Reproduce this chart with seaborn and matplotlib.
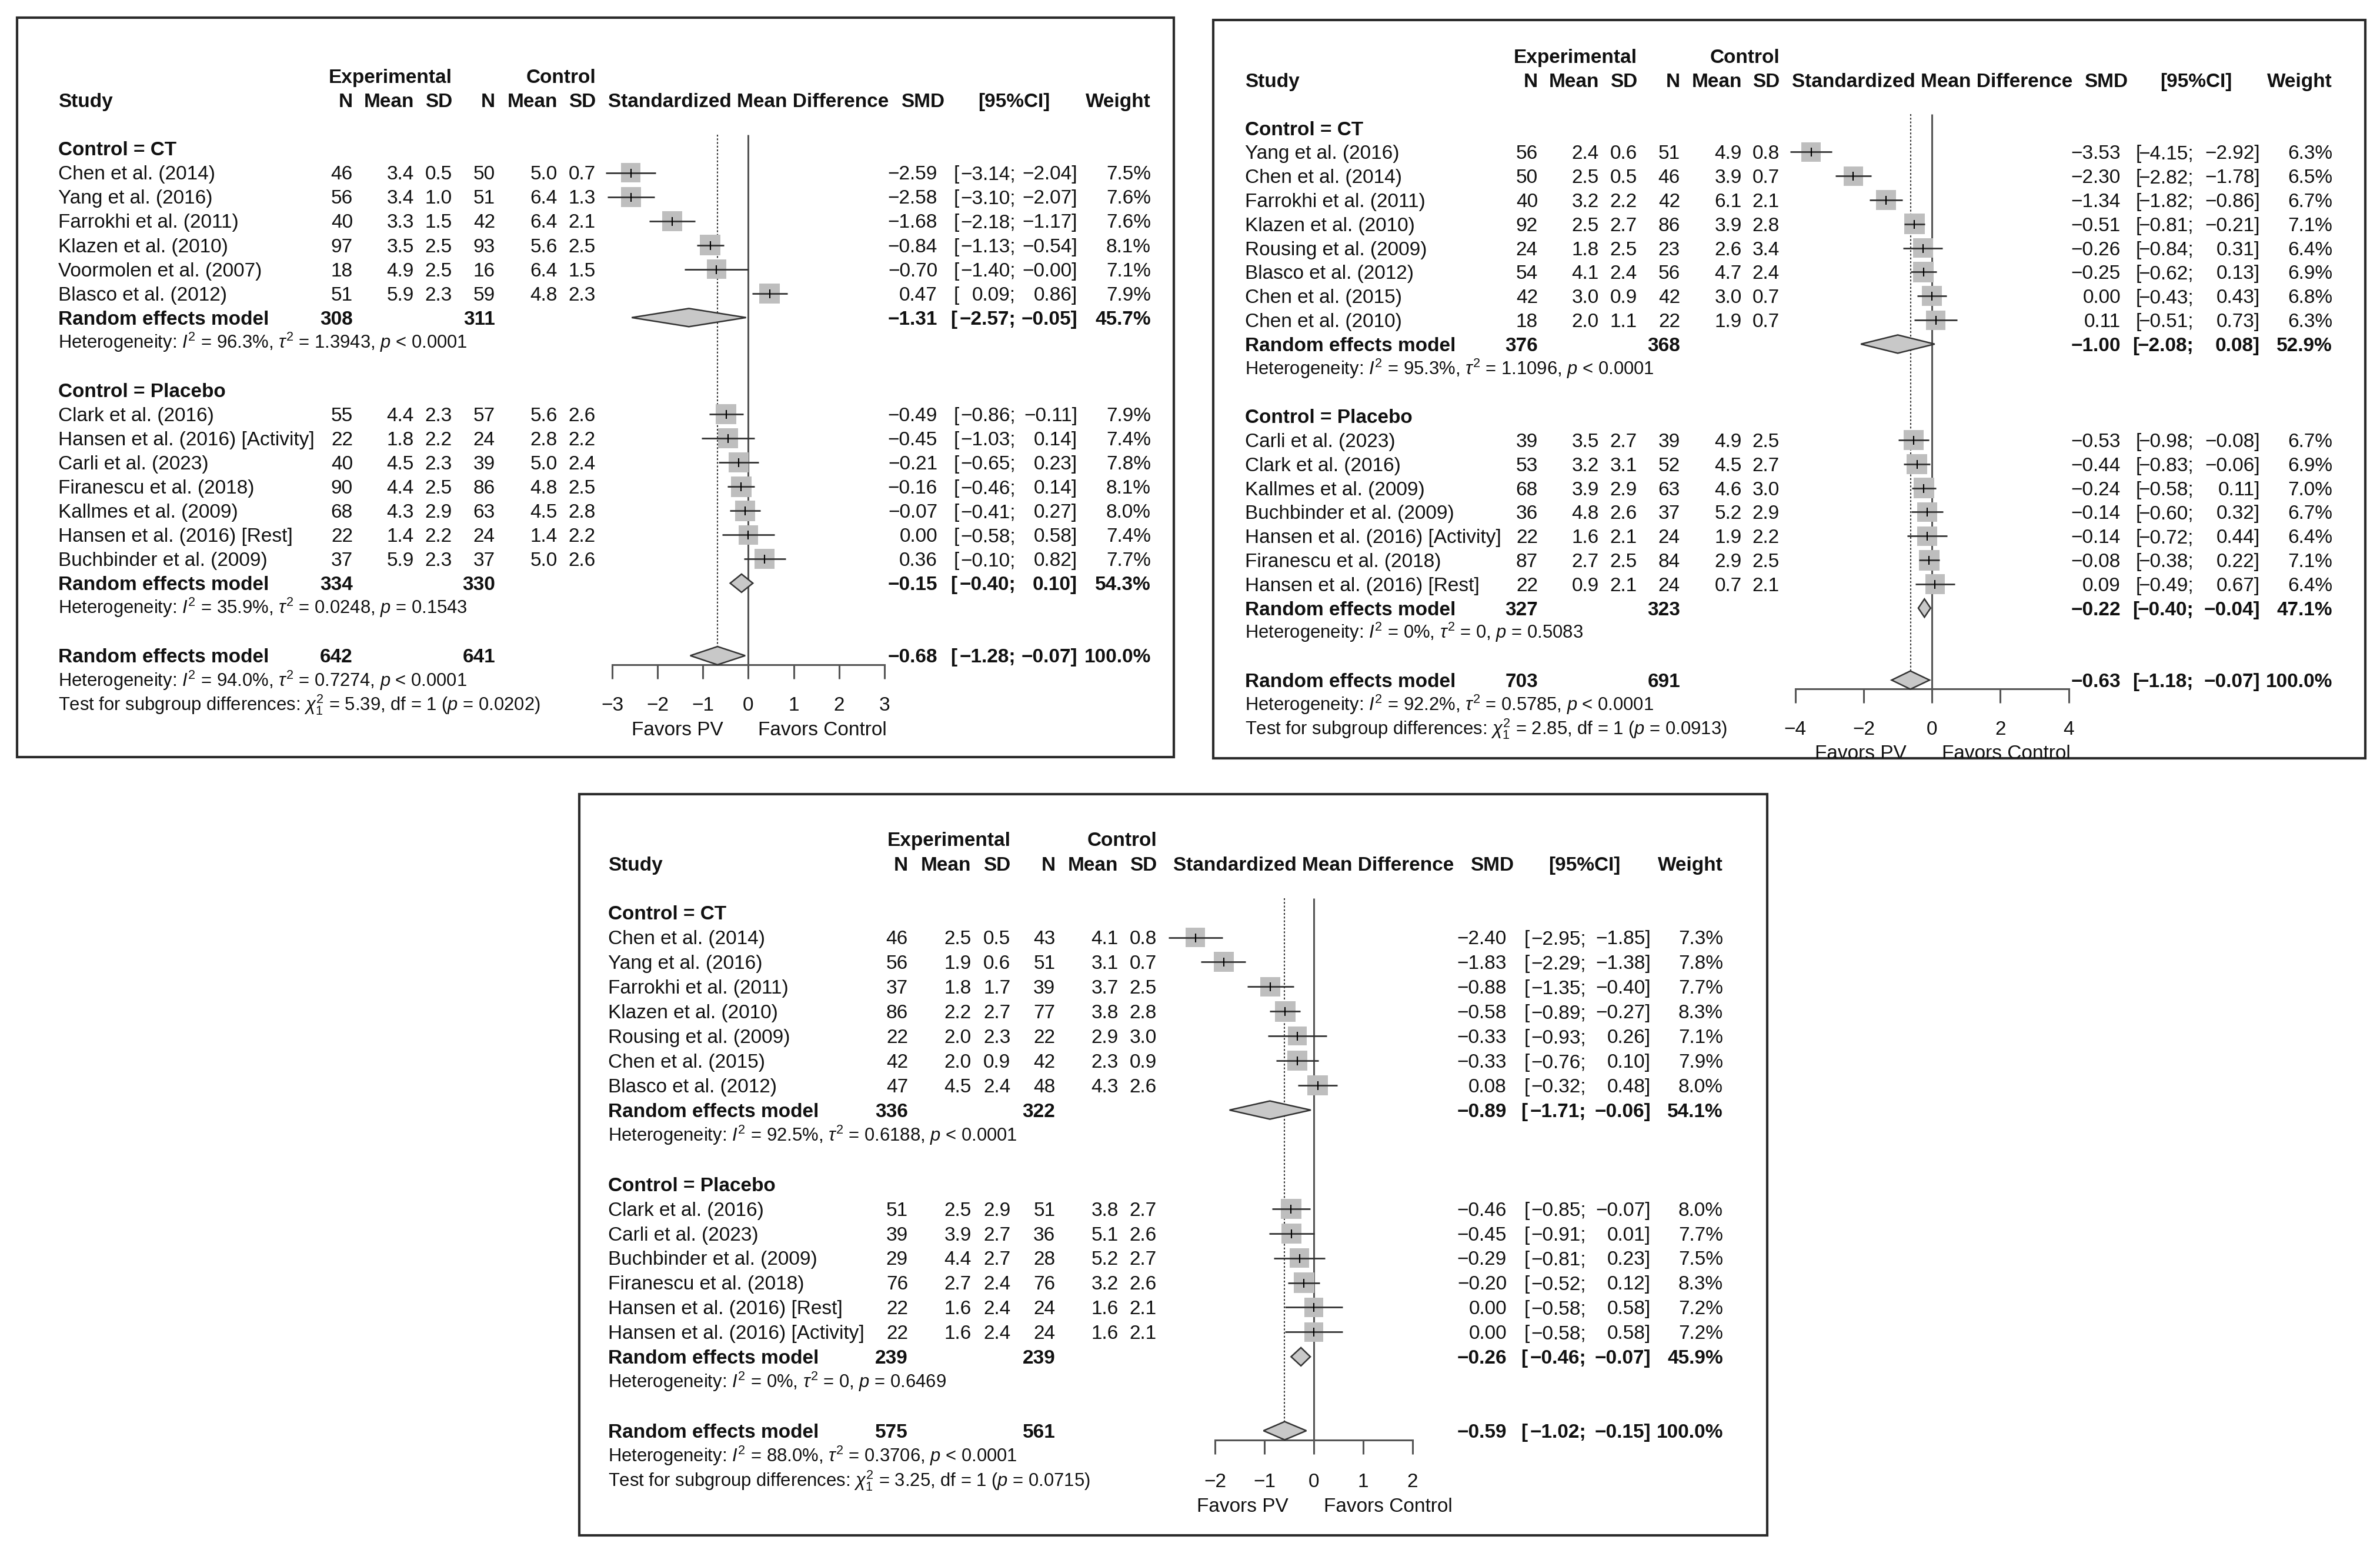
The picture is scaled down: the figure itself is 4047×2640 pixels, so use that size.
import matplotlib.pyplot as plt
import matplotlib.patches as mpatches
import numpy as np
import pandas as pd
import seaborn as sns

# ---------------- panel A (top left) ----------------
a_ct_study = ["Chen et al. (2014)", "Yang et al. (2016)", "Farrokhi et al. (2011)",
              "Klazen et al. (2010)", "Voormolen et al. (2007)", "Blasco et al. (2012)"]
a_ct_ne = [46, 56, 40, 97, 18, 51]
a_ct_me = [3.4, 3.4, 3.3, 3.5, 4.9, 5.9]
a_ct_se = [0.5, 1.0, 1.5, 2.5, 2.5, 2.3]
a_ct_nc = [50, 51, 42, 93, 16, 59]
a_ct_mc = [5.0, 6.4, 6.4, 5.6, 6.4, 4.8]
a_ct_sc = [0.7, 1.3, 2.1, 2.5, 1.5, 2.3]
a_ct_smd = [-2.59, -2.58, -1.68, -0.84, -0.70, 0.47]
a_ct_lo = [-3.14, -3.10, -2.18, -1.13, -1.40, 0.09]
a_ct_hi = [-2.04, -2.07, -1.17, -0.54, -0.00, 0.86]
a_ct_w = [7.5, 7.6, 7.6, 8.1, 7.1, 7.9]
a_ct_pooled = [-1.31, -2.57, -0.05, 45.7]
a_ct_total = [308, 311]
a_ct_het = ["96.3%", "1.3943", "< 0.0001"]

a_pl_study = ["Clark et al. (2016)", "Hansen et al. (2016) [Activity]", "Carli et al. (2023)",
              "Firanescu et al. (2018)", "Kallmes et al. (2009)", "Hansen et al. (2016) [Rest]",
              "Buchbinder et al. (2009)"]
a_pl_ne = [55, 22, 40, 90, 68, 22, 37]
a_pl_me = [4.4, 1.8, 4.5, 4.4, 4.3, 1.4, 5.9]
a_pl_se = [2.3, 2.2, 2.3, 2.5, 2.9, 2.2, 2.3]
a_pl_nc = [57, 24, 39, 86, 63, 24, 37]
a_pl_mc = [5.6, 2.8, 5.0, 4.8, 4.5, 1.4, 5.0]
a_pl_sc = [2.6, 2.2, 2.4, 2.5, 2.8, 2.2, 2.6]
a_pl_smd = [-0.49, -0.45, -0.21, -0.16, -0.07, 0.00, 0.36]
a_pl_lo = [-0.86, -1.03, -0.65, -0.46, -0.41, -0.58, -0.10]
a_pl_hi = [-0.11, 0.14, 0.23, 0.14, 0.27, 0.58, 0.82]
a_pl_w = [7.9, 7.4, 7.8, 8.1, 8.0, 7.4, 7.7]
a_pl_pooled = [-0.15, -0.40, 0.10, 54.3]
a_pl_total = [334, 330]
a_pl_het = ["35.9%", "0.0248", "= 0.1543"]

a_all_pooled = [-0.68, -1.28, -0.07, 100.0]
a_all_total = [642, 641]
a_all_het = ["94.0%", "0.7274", "< 0.0001"]
a_test = ["5.39", "1", "0.0202"]

# ---------------- panel B (top right) ----------------
b_ct_study = ["Yang et al. (2016)", "Chen et al. (2014)", "Farrokhi et al. (2011)",
              "Klazen et al. (2010)", "Rousing et al. (2009)", "Blasco et al. (2012)",
              "Chen et al. (2015)", "Chen et al. (2010)"]
b_ct_ne = [56, 50, 40, 92, 24, 54, 42, 18]
b_ct_me = [2.4, 2.5, 3.2, 2.5, 1.8, 4.1, 3.0, 2.0]
b_ct_se = [0.6, 0.5, 2.2, 2.7, 2.5, 2.4, 0.9, 1.1]
b_ct_nc = [51, 46, 42, 86, 23, 56, 42, 22]
b_ct_mc = [4.9, 3.9, 6.1, 3.9, 2.6, 4.7, 3.0, 1.9]
b_ct_sc = [0.8, 0.7, 2.1, 2.8, 3.4, 2.4, 0.7, 0.7]
b_ct_smd = [-3.53, -2.30, -1.34, -0.51, -0.26, -0.25, 0.00, 0.11]
b_ct_lo = [-4.15, -2.82, -1.82, -0.81, -0.84, -0.62, -0.43, -0.51]
b_ct_hi = [-2.92, -1.78, -0.86, -0.21, 0.31, 0.13, 0.43, 0.73]
b_ct_w = [6.3, 6.5, 6.7, 7.1, 6.4, 6.9, 6.8, 6.3]
b_ct_pooled = [-1.00, -2.08, 0.08, 52.9]
b_ct_total = [376, 368]
b_ct_het = ["95.3%", "1.1096", "< 0.0001"]

b_pl_study = ["Carli et al. (2023)", "Clark et al. (2016)", "Kallmes et al. (2009)",
              "Buchbinder et al. (2009)", "Hansen et al. (2016) [Activity]",
              "Firanescu et al. (2018)", "Hansen et al. (2016) [Rest]"]
b_pl_ne = [39, 53, 68, 36, 22, 87, 22]
b_pl_me = [3.5, 3.2, 3.9, 4.8, 1.6, 2.7, 0.9]
b_pl_se = [2.7, 3.1, 2.9, 2.6, 2.1, 2.5, 2.1]
b_pl_nc = [39, 52, 63, 37, 24, 84, 24]
b_pl_mc = [4.9, 4.5, 4.6, 5.2, 1.9, 2.9, 0.7]
b_pl_sc = [2.5, 2.7, 3.0, 2.9, 2.2, 2.5, 2.1]
b_pl_smd = [-0.53, -0.44, -0.24, -0.14, -0.14, -0.08, 0.09]
b_pl_lo = [-0.98, -0.83, -0.58, -0.60, -0.72, -0.38, -0.49]
b_pl_hi = [-0.08, -0.06, 0.11, 0.32, 0.44, 0.22, 0.67]
b_pl_w = [6.7, 6.9, 7.0, 6.7, 6.4, 7.1, 6.4]
b_pl_pooled = [-0.22, -0.40, -0.04, 47.1]
b_pl_total = [327, 323]
b_pl_het = ["0%", "0", "= 0.5083"]

b_all_pooled = [-0.63, -1.18, -0.07, 100.0]
b_all_total = [703, 691]
b_all_het = ["92.2%", "0.5785", "< 0.0001"]
b_test = ["2.85", "1", "0.0913"]

# ---------------- panel C (bottom) ----------------
c_ct_study = ["Chen et al. (2014)", "Yang et al. (2016)", "Farrokhi et al. (2011)",
              "Klazen et al. (2010)", "Rousing et al. (2009)", "Chen et al. (2015)",
              "Blasco et al. (2012)"]
c_ct_ne = [46, 56, 37, 86, 22, 42, 47]
c_ct_me = [2.5, 1.9, 1.8, 2.2, 2.0, 2.0, 4.5]
c_ct_se = [0.5, 0.6, 1.7, 2.7, 2.3, 0.9, 2.4]
c_ct_nc = [43, 51, 39, 77, 22, 42, 48]
c_ct_mc = [4.1, 3.1, 3.7, 3.8, 2.9, 2.3, 4.3]
c_ct_sc = [0.8, 0.7, 2.5, 2.8, 3.0, 0.9, 2.6]
c_ct_smd = [-2.40, -1.83, -0.88, -0.58, -0.33, -0.33, 0.08]
c_ct_lo = [-2.95, -2.29, -1.35, -0.89, -0.93, -0.76, -0.32]
c_ct_hi = [-1.85, -1.38, -0.40, -0.27, 0.26, 0.10, 0.48]
c_ct_w = [7.3, 7.8, 7.7, 8.3, 7.1, 7.9, 8.0]
c_ct_pooled = [-0.89, -1.71, -0.06, 54.1]
c_ct_total = [336, 322]
c_ct_het = ["92.5%", "0.6188", "< 0.0001"]

c_pl_study = ["Clark et al. (2016)", "Carli et al. (2023)", "Buchbinder et al. (2009)",
              "Firanescu et al. (2018)", "Hansen et al. (2016) [Rest]",
              "Hansen et al. (2016) [Activity]"]
c_pl_ne = [51, 39, 29, 76, 22, 22]
c_pl_me = [2.5, 3.9, 4.4, 2.7, 1.6, 1.6]
c_pl_se = [2.9, 2.7, 2.7, 2.4, 2.4, 2.4]
c_pl_nc = [51, 36, 28, 76, 24, 24]
c_pl_mc = [3.8, 5.1, 5.2, 3.2, 1.6, 1.6]
c_pl_sc = [2.7, 2.6, 2.7, 2.6, 2.1, 2.1]
c_pl_smd = [-0.46, -0.45, -0.29, -0.20, 0.00, 0.00]
c_pl_lo = [-0.85, -0.91, -0.81, -0.52, -0.58, -0.58]
c_pl_hi = [-0.07, 0.01, 0.23, 0.12, 0.58, 0.58]
c_pl_w = [8.0, 7.7, 7.5, 8.3, 7.2, 7.2]
c_pl_pooled = [-0.26, -0.46, -0.07, 45.9]
c_pl_total = [239, 239]
c_pl_het = ["0%", "0", "= 0.6469"]

c_all_pooled = [-0.59, -1.02, -0.15, 100.0]
c_all_total = [575, 561]
c_all_het = ["88.0%", "0.3706", "< 0.0001"]
c_test = ["3.25", "1", "0.0715"]


def group(label, study, ne, me, se, nc, mc, sc, smd, lo, hi, w, pooled, total, het):
    return dict(label=label, study=study, ne=ne, me=me, se=se, nc=nc, mc=mc, sc=sc,
                smd=smd, lo=lo, hi=hi, w=w, pooled=pooled, total=total, het=het)


panel_a = dict(groups=[group("Control = CT", a_ct_study, a_ct_ne, a_ct_me, a_ct_se, a_ct_nc, a_ct_mc,
                             a_ct_sc, a_ct_smd, a_ct_lo, a_ct_hi, a_ct_w, a_ct_pooled, a_ct_total, a_ct_het),
                       group("Control = Placebo", a_pl_study, a_pl_ne, a_pl_me, a_pl_se, a_pl_nc, a_pl_mc,
                             a_pl_sc, a_pl_smd, a_pl_lo, a_pl_hi, a_pl_w, a_pl_pooled, a_pl_total, a_pl_het)],
               pooled=a_all_pooled, total=a_all_total, het=a_all_het, test=a_test)
panel_b = dict(groups=[group("Control = CT", b_ct_study, b_ct_ne, b_ct_me, b_ct_se, b_ct_nc, b_ct_mc,
                             b_ct_sc, b_ct_smd, b_ct_lo, b_ct_hi, b_ct_w, b_ct_pooled, b_ct_total, b_ct_het),
                       group("Control = Placebo", b_pl_study, b_pl_ne, b_pl_me, b_pl_se, b_pl_nc, b_pl_mc,
                             b_pl_sc, b_pl_smd, b_pl_lo, b_pl_hi, b_pl_w, b_pl_pooled, b_pl_total, b_pl_het)],
               pooled=b_all_pooled, total=b_all_total, het=b_all_het, test=b_test)
panel_c = dict(groups=[group("Control = CT", c_ct_study, c_ct_ne, c_ct_me, c_ct_se, c_ct_nc, c_ct_mc,
                             c_ct_sc, c_ct_smd, c_ct_lo, c_ct_hi, c_ct_w, c_ct_pooled, c_ct_total, c_ct_het),
                       group("Control = Placebo", c_pl_study, c_pl_ne, c_pl_me, c_pl_se, c_pl_nc, c_pl_mc,
                             c_pl_sc, c_pl_smd, c_pl_lo, c_pl_hi, c_pl_w, c_pl_pooled, c_pl_total, c_pl_het)],
               pooled=c_all_pooled, total=c_all_total, het=c_all_het, test=c_test)

# layout in output pixels: box, first row centre, row step, text columns, forest tick span
lay_a = dict(box=(29, 30, 1996, 1287), row0=252.5, dy=41.05,
             cols=(99, 600, 704, 769, 842, 948, 1013, 1594, 1622, 1727, 1832, 1957),
             fx=(1041, 1504), ticks=[-3, -2, -1, 0, 1, 2, 3])
lay_b = dict(box=(2063, 34, 4022, 1289), row0=217.7, dy=40.8,
             cols=(2117, 2615, 2719, 2784, 2857, 2962, 3026, 3606, 3632, 3730, 3843, 3966),
             fx=(3052.6, 3517.7), ticks=[-4, -2, 0, 2, 4])
lay_c = dict(box=(985, 1350, 3005, 2610), row0=1551.6, dy=41.93,
             cols=(1034, 1544, 1651.6, 1718.5, 1794.4, 1901.6, 1967, 2562, 2592, 2697, 2807, 2930),
             fx=(2066.3, 2401.6), ticks=[-2, -1, 0, 1, 2])

sns.set_theme(style="white")
plt.rcParams['font.family'] = ['Liberation Sans', 'DejaVu Sans']
plt.rcParams['mathtext.fontset'] = 'custom'
plt.rcParams['mathtext.rm'] = 'Liberation Sans'
plt.rcParams['mathtext.it'] = 'Liberation Sans:italic'
plt.rcParams['mathtext.bf'] = 'Liberation Sans:bold'
plt.rcParams['axes.unicode_minus'] = True

W, H = 4048, 2640
FS = 24
FS_SMALL = 22.3
TXT = '#111111'
LINE = '#555555'

fig = plt.figure(figsize=(W / 100, H / 100), dpi=100, facecolor='white')
bg = fig.add_axes([0, 0, 1, 1])
bg.set_xlim(0, W)
bg.set_ylim(H, 0)
bg.axis('off')


def fmt(v):
    return f"{v:.2f}".replace('-', '\u2212')


def draw_panel(lay, pan):
    x0, y0, x1, y1 = lay['box']
    r0, dy = lay['row0'], lay['dy']
    xs, xne, xme, xse, xnc, xmc, xsc, xsmd, xb, xsemi, xend, xw = lay['cols']
    ticks = lay['ticks']
    px0, px1 = lay['fx']
    zero_px = px0 + (0 - ticks[0]) / (ticks[-1] - ticks[0]) * (px1 - px0)

    box = mpatches.Rectangle((x0, y0), x1 - x0, y1 - y0, fill=False, ec='#2b2b2b', lw=3, zorder=10)
    bg.add_patch(box)

    def put(x, k, s, ha='left', bold=False, size=FS):
        bg.text(x, r0 + k * dy + 0.355 * size / 0.72, s, ha=ha, va='baseline', fontsize=size,
                fontweight='bold' if bold else 'normal', color=TXT)

    def ci(k, est, lo, hi, w, bold=False):
        put(xsmd, k, fmt(est), 'right', bold)
        put(xb - (6 if bold else 0), k, '[', 'left', bold)
        put(xsemi, k, fmt(lo) + ';', 'right', bold)
        put(xend, k, fmt(hi) + ']', 'right', bold)
        put(xw, k, f"{w:.1f}%", 'right', bold)

    def het(k, h):
        put(xs, k, rf"Heterogeneity: $I^2$ = {h[0]}, $\tau^2$ = {h[1]}, $p$ {h[2]}", size=FS_SMALL)

    # header
    put(xse, -3, 'Experimental', 'right', True)
    put(xsc, -3, 'Control', 'right', True)
    put(xs, -2, 'Study', bold=True)
    for x, s in zip([xne, xme, xse, xnc, xmc, xsc], ['N', 'Mean', 'SD', 'N', 'Mean', 'SD']):
        put(x, -2, s, 'right', True)
    put(zero_px, -2, 'Standardized Mean Difference', 'center', True)
    put(xsmd + 12, -2, 'SMD', 'right', True)
    put(xb + 102, -2, '[95%CI]', 'center', True)
    put(xw, -2, 'Weight', 'right', True)

    k = 0
    rows = []
    diamonds = []
    for g in pan['groups']:
        put(xs, k, g['label'], bold=True)
        for i, name in enumerate(g['study']):
            k += 1
            put(xs, k, name)
            put(xne, k, str(g['ne'][i]), 'right')
            put(xme, k, f"{g['me'][i]:.1f}", 'right')
            put(xse, k, f"{g['se'][i]:.1f}", 'right')
            put(xnc, k, str(g['nc'][i]), 'right')
            put(xmc, k, f"{g['mc'][i]:.1f}", 'right')
            put(xsc, k, f"{g['sc'][i]:.1f}", 'right')
            ci(k, g['smd'][i], g['lo'][i], g['hi'][i], g['w'][i])
            rows.append((g['smd'][i], g['lo'][i], g['hi'][i], g['w'][i], k))
        k += 1
        put(xs, k, 'Random effects model', bold=True)
        put(xne, k, str(g['total'][0]), 'right', True)
        put(xnc, k, str(g['total'][1]), 'right', True)
        ci(k, *g['pooled'], bold=True)
        diamonds.append((g['pooled'][0], g['pooled'][1], g['pooled'][2], k))
        k += 1
        het(k, g['het'])
        k += 2
    k_ov = k
    put(xs, k, 'Random effects model', bold=True)
    put(xne, k, str(pan['total'][0]), 'right', True)
    put(xnc, k, str(pan['total'][1]), 'right', True)
    ci(k, *pan['pooled'], bold=True)
    diamonds.append((pan['pooled'][0], pan['pooled'][1], pan['pooled'][2], k))
    het(k + 1, pan['het'])
    t = pan['test']
    put(xs, k + 2, rf"Test for subgroup differences: $\chi^2_1$ = {t[0]}, df = {t[1]} ($p$ = {t[2]})",
        size=FS_SMALL)

    # forest axes
    fa = fig.add_axes([px0 / W, 1 - y1 / H, (px1 - px0) / W, (y1 - y0) / H])
    fa.patch.set_alpha(0)
    df = pd.DataFrame(rows, columns=['smd', 'lo', 'hi', 'w', 'k'])
    wmax = df['w'].max()
    sns.scatterplot(data=df, x='smd', y='k', size='w', sizes=(0, (35 * 0.72) ** 2),
                    size_norm=(0, wmax), marker='s', color='#BEBEBE', linewidth=0,
                    legend=False, ax=fa, zorder=2, clip_on=False)
    fa.hlines(df['k'], df['lo'], df['hi'], color='#333333', lw=2, zorder=3, clip_on=False)
    fa.scatter(df['smd'], df['k'], marker='|', s=(15 * 0.72) ** 2, color='black',
               linewidths=1.5, zorder=4, clip_on=False)

    h = 15.5 / dy
    for est, lo, hi, kk in diamonds:
        fa.add_patch(mpatches.Polygon([(lo, kk), (est, kk - h), (hi, kk), (est, kk + h)],
                                      closed=True, fc='#C8C8C8', ec='#333333', lw=1.8,
                                      zorder=3, clip_on=False))

    k_top = -0.58
    k_axis = k_ov + 0.37
    fa.vlines(0, k_top, k_axis, color=LINE, lw=2.2, zorder=1)
    fa.vlines(pan['pooled'][0], k_top, k_ov - h, color='#333333', lw=1.5,
              linestyles=(0, (1.5, 1.5)), zorder=1)

    fa.set_xlim(ticks[0], ticks[-1])
    fa.set_ylim((y1 - r0) / dy, (y0 - r0) / dy)
    for s in ['top', 'left', 'right']:
        fa.spines[s].set_visible(False)
    fa.spines['bottom'].set_position(('data', k_axis))
    fa.spines['bottom'].set_color(LINE)
    fa.spines['bottom'].set_linewidth(2.2)
    tick_len = 24
    pad = (1.63 * dy - tick_len - 0.37 * FS / 0.72) * 0.72
    fa.set_xticks(ticks)
    fa.set_yticks([])
    fa.tick_params(axis='x', bottom=True, direction='out', length=tick_len * 0.72, width=2.2,
                   color=LINE, labelsize=FS, labelcolor=TXT, pad=pad)
    fa.set_xlabel('')
    fa.set_ylabel('')
    fa.grid(False)

    for s, dx, ha in [('Favors PV', -43, 'right'), ('Favors Control', 17, 'left')]:
        an = fa.annotate(s, xy=(0, k_ov + 3), xycoords='data', xytext=(dx * 0.72, -0.355 * FS),
                         textcoords='offset points', ha=ha, va='baseline', fontsize=FS,
                         color=TXT, annotation_clip=False)
        an.set_clip_path(box)


draw_panel(lay_a, panel_a)
draw_panel(lay_b, panel_b)
draw_panel(lay_c, panel_c)

fig.savefig('out.png', dpi=100, facecolor='white')
